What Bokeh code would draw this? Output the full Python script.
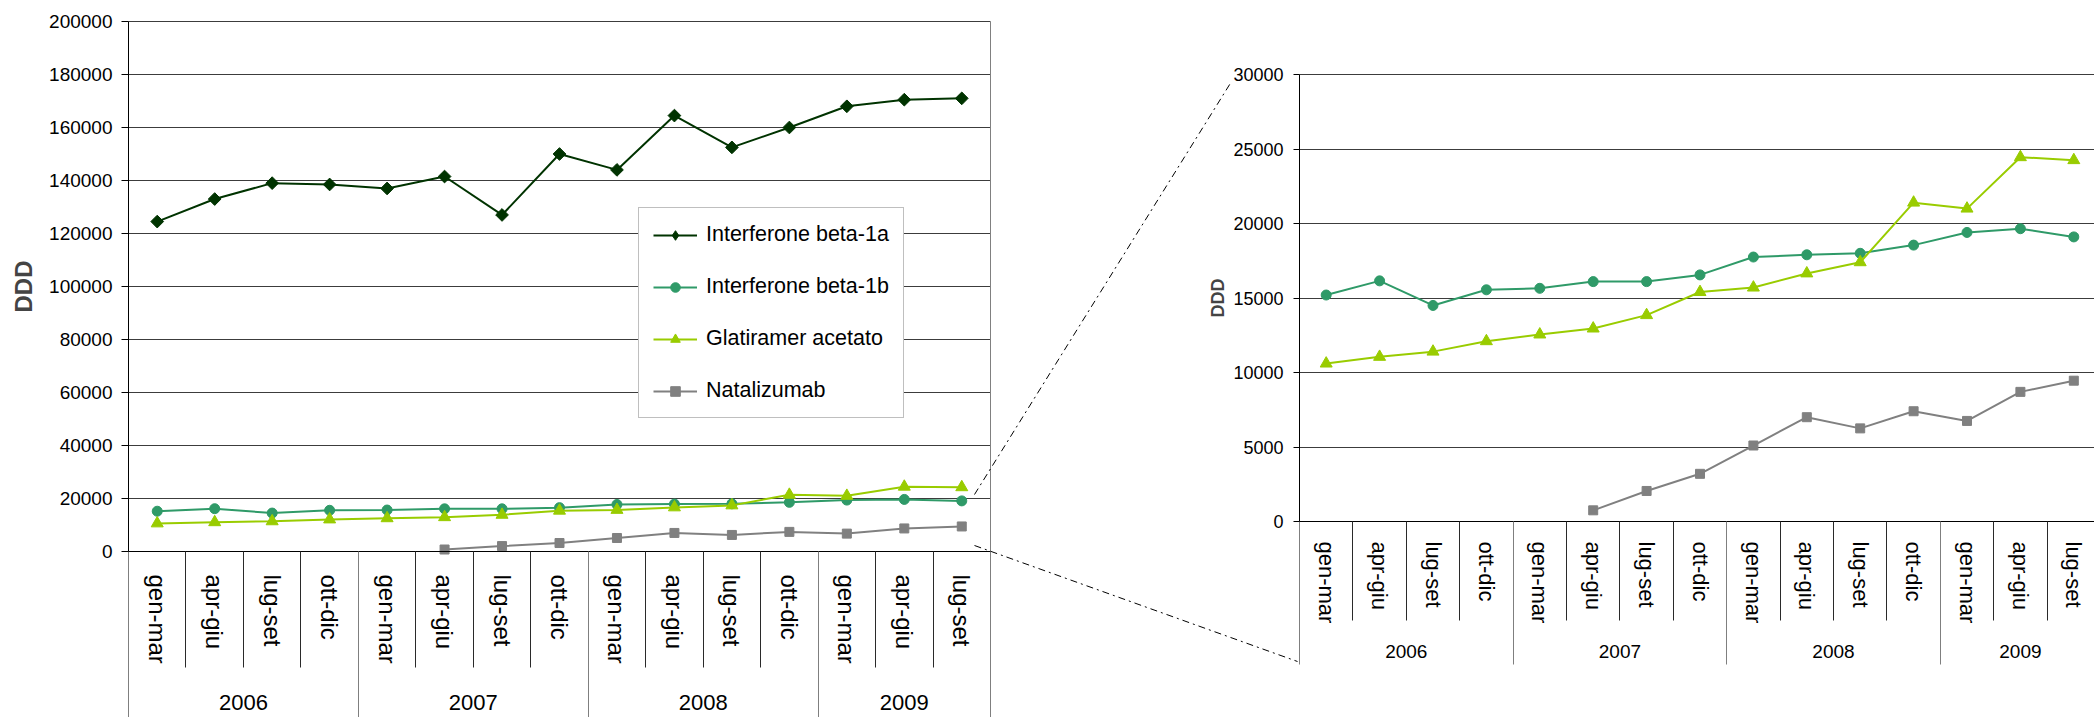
import math

from bokeh.embed import file_html
from bokeh.layouts import row
from bokeh.models import (Arrow, FixedTicker, Legend, LegendItem, LinearAxis,
                          NumeralTickFormatter, Range1d)
from bokeh.plotting import figure
from bokeh.resources import INLINE

# ---------------------------------------------------------------- data
period_year = ["2006", "2006", "2006", "2006",
               "2007", "2007", "2007", "2007",
               "2008", "2008", "2008", "2008",
               "2009", "2009", "2009"]
period_quarter = ["gen-mar", "apr-giu", "lug-set", "ott-dic",
                  "gen-mar", "apr-giu", "lug-set", "ott-dic",
                  "gen-mar", "apr-giu", "lug-set", "ott-dic",
                  "gen-mar", "apr-giu", "lug-set"]

beta_1a = [124500, 133000, 139000, 138500, 137000, 141500, 127000, 150000,
           144000, 164500, 152500, 160000, 168000, 170500, 171000]
beta_1b = [15200, 16150, 14500, 15550, 15650, 16100, 16100, 16550,
           17750, 17900, 18000, 18550, 19400, 19650, 19100]
glatiramer = [10600, 11050, 11400, 12100, 12550, 12950, 13850, 15400,
              15700, 16650, 17400, 21400, 21000, 24450, 24250]
natalizumab = [None, None, None, None, None, 750, 2050, 3200,
               5100, 7000, 6250, 7400, 6750, 8700, 9450]

series_names = ["Interferone beta-1a", "Interferone beta-1b",
                "Glatiramer acetato", "Natalizumab"]
series_values = [beta_1a, beta_1b, glatiramer, natalizumab]

# ---------------------------------------------------------------- styles
FONT = "Liberation Sans"
# marker drawn on the plot, and (when different) the marker shown in the legend key
STYLES = [
    dict(color="#003300", marker="square", size=9, angle=math.pi / 4, key="diamond"),
    dict(color="#2f9a68", marker="circle", size=10, angle=0, key=None),
    dict(color="#99cc00", marker="triangle", size=12, angle=0, key=None),
    dict(color="#808080", marker="square", size=9, angle=0, key=None),
]
GRID = "#3c3c3c"

# category geometry (one unit per quarter)
n = len(period_quarter)
centers = [i + 0.5 for i in range(n)]
year_bounds = [0] + [i for i in range(1, n) if period_year[i] != period_year[i - 1]] + [n]
quarter_bounds = [b for b in range(n + 1) if b not in year_bounds]
year_centers = [(a + b) / 2 for a, b in zip(year_bounds[:-1], year_bounds[1:])]
year_labels = [period_year[a] for a in year_bounds[:-1]]

# dash-dot connectors of the zoomed view, in page pixels
CONNECTORS = [((974, 494), (1231, 81)), ((974, 545), (1297, 661))]


def build_chart(cfg, series_idx, with_legend):
    ox, width, height = cfg["offset"], cfg["width"], cfg["height"]
    pl, pt, pb = cfg["plot"]            # plot-area left / top / bottom, page px
    cw = cfg["cat_w"]                   # px per quarter
    y_max = cfg["y_max"]
    ypx = (pb - pt) / y_max             # px per unit of value

    # the frame fills the whole canvas; axes sit at fixed locations inside it
    x_range = Range1d(-(pl - ox) / cw, (ox + width - pl) / cw)
    y_range = Range1d(-(height - pb) / ypx, y_max + pt / ypx)

    p = figure(width=width, height=height, x_range=x_range, y_range=y_range,
               x_axis_location=None, toolbar_location=None, tools="",
               output_backend="svg", min_border=0,
               background_fill_color="white", border_fill_color="white",
               outline_line_color=None)
    p.xgrid.visible = False

    # value axis
    yt = FixedTicker(ticks=list(range(0, y_max + 1, cfg["y_step"])))
    ya = p.yaxis[0]
    ya.fixed_location = 0
    ya.bounds = (0, y_max)
    ya.ticker = yt
    ya.formatter = NumeralTickFormatter(format="0")
    ya.axis_label = "DDD"
    ya.axis_label_text_font = FONT
    ya.axis_label_text_font_style = "bold"
    ya.axis_label_text_font_size = cfg["ylabel_size"]
    ya.axis_label_standoff = cfg["ylabel_standoff"]
    ya.major_label_text_font = FONT
    ya.major_label_text_font_size = cfg["ytick_size"]
    ya.major_label_text_color = "black"
    ya.major_label_standoff = cfg["ytick_standoff"]
    ya.major_tick_out = cfg["ytick_out"]
    ya.major_tick_in = 0
    ya.minor_tick_out = 0
    ya.minor_tick_in = 0
    ya.axis_line_color = "black"
    ya.major_tick_line_color = "black"

    grid = p.ygrid[0]
    grid.ticker = yt
    grid.grid_line_color = GRID
    grid.grid_line_width = 1
    try:
        grid.cross_bounds = (0, n)
    except Exception:
        # no cross bounds: draw the gridlines as long inward ticks instead
        grid.visible = False
        ya.major_tick_in = int(n * cw)
        ya.major_tick_line_color = GRID

    # dividers under the plot: long ticks at year edges, short at quarter edges
    ax_div = LinearAxis(fixed_location=0, bounds=(0, n),
                        ticker=FixedTicker(ticks=year_bounds, minor_ticks=quarter_bounds),
                        major_tick_in=0, major_tick_out=cfg["year_div"],
                        major_tick_line_color="#7f7f7f", major_tick_line_width=1,
                        minor_tick_in=0, minor_tick_out=cfg["q_div"],
                        minor_tick_line_color="#2a2a2a", minor_tick_line_width=1,
                        major_label_text_color=None, major_label_text_font_size="0px",
                        axis_line_color="black")
    p.add_layout(ax_div, "below")

    # year labels
    ax_y = LinearAxis(fixed_location=0, bounds=(0, n),
                      ticker=FixedTicker(ticks=year_centers),
                      major_label_overrides=dict(zip(year_centers, year_labels)),
                      major_label_text_font=FONT,
                      major_label_text_font_size=cfg["yr_size"],
                      major_label_text_color="black",
                      major_label_standoff=cfg["yr_standoff"],
                      major_tick_out=0, major_tick_in=0, major_tick_line_color=None,
                      minor_tick_out=0, minor_tick_in=0, minor_tick_line_color=None,
                      axis_line_color=None)
    p.add_layout(ax_y, "below")

    # quarter labels
    ax_q = LinearAxis(fixed_location=0, bounds=(0, n),
                      ticker=FixedTicker(ticks=centers),
                      major_label_overrides={c: q for c, q in zip(centers, period_quarter)},
                      major_label_orientation="vertical",
                      major_label_text_font=FONT,
                      major_label_text_font_size=cfg["q_size"],
                      major_label_text_color="black",
                      major_label_standoff=cfg["q_standoff"],
                      major_tick_out=0, major_tick_in=0, major_tick_line_color=None,
                      minor_tick_out=0, minor_tick_in=0, minor_tick_line_color=None,
                      axis_line_color=None)
    p.add_layout(ax_q, "below")

    # right-hand border of the plot area
    if cfg["right_border"]:
        ax_r = LinearAxis(fixed_location=n, bounds=(0, y_max),
                          ticker=FixedTicker(ticks=[]),
                          major_label_text_color=None, major_label_text_font_size="0px",
                          major_tick_out=0, major_tick_in=0,
                          minor_tick_out=0, minor_tick_in=0,
                          axis_line_color="#808080", axis_line_width=1)
        p.add_layout(ax_r, "right")

    # series
    items = []
    for k in series_idx:
        st = STYLES[k]
        pts = [(x, v) for x, v in zip(centers, series_values[k]) if v is not None]
        xs = [a for a, _ in pts]
        ys = [b for _, b in pts]
        lr = p.line(xs, ys, line_color=st["color"], line_width=2)
        key = None
        if st["key"] is not None:
            # legend keys ignore marker rotation: a plain diamond sits hidden under
            # the rotated markers and stands in for them in the legend
            key = p.scatter(xs, ys, marker=st["key"], size=st["size"] + 1,
                            fill_color=st["color"], line_color=st["color"])
        sr = p.scatter(xs, ys, marker=st["marker"], size=st["size"], angle=st["angle"],
                       fill_color=st["color"], line_color=st["color"])
        items.append(LegendItem(label=series_names[k], renderers=[lr, key or sr]))

    if with_legend:
        bx, by = cfg["legend_at"]       # bottom-left corner of the box, page px
        legend = Legend(items=items, location=(bx - ox, height - by),
                        orientation="vertical",
                        padding=14, spacing=27, margin=0,
                        glyph_width=44, glyph_height=24, label_height=24,
                        label_standoff=9, label_text_font=FONT,
                        label_text_font_size="21.5px", label_text_color="black",
                        border_line_color="#7f7f7f", border_line_width=1.5,
                        background_fill_color="white", background_fill_alpha=1)
        p.add_layout(legend)

    # zoom connectors
    def to_data(px, py):
        return ((px - pl) / cw, (pb - py) / ypx)

    for (p0, p1) in CONNECTORS:
        xa, ya_ = to_data(*p0)
        xb, yb = to_data(*p1)
        p.add_layout(Arrow(end=None, x_start=xa, y_start=ya_, x_end=xb, y_end=yb,
                           line_color="black", line_width=1, line_dash="7 4 2 4"))
    return p


left_cfg = dict(offset=0, width=1000, height=717, plot=(128, 21, 551),
                cat_w=862 / 15, y_max=200000, y_step=20000, right_border=True,
                ylabel_size="24px", ylabel_standoff=9, ytick_size="19px",
                ytick_standoff=9, ytick_out=7,
                year_div=170, q_size="24px", q_standoff=23, q_div=116,
                yr_size="22px", yr_standoff=143, legend_at=(638, 418))
right_cfg = dict(offset=1000, width=1094, height=717, plot=(1299, 74, 521),
                 cat_w=53.4, y_max=30000, y_step=5000, right_border=False,
                 ylabel_size="18px", ylabel_standoff=2, ytick_size="18px",
                 ytick_standoff=10, ytick_out=6,
                 year_div=143, q_size="22px", q_standoff=20, q_div=99,
                 yr_size="19px", yr_standoff=123)

left = build_chart(left_cfg, [0, 1, 2, 3], True)
right = build_chart(right_cfg, [1, 2, 3], False)

page = row(left, right, spacing=0)
open("out.html", "w").write(file_html(page, INLINE))
